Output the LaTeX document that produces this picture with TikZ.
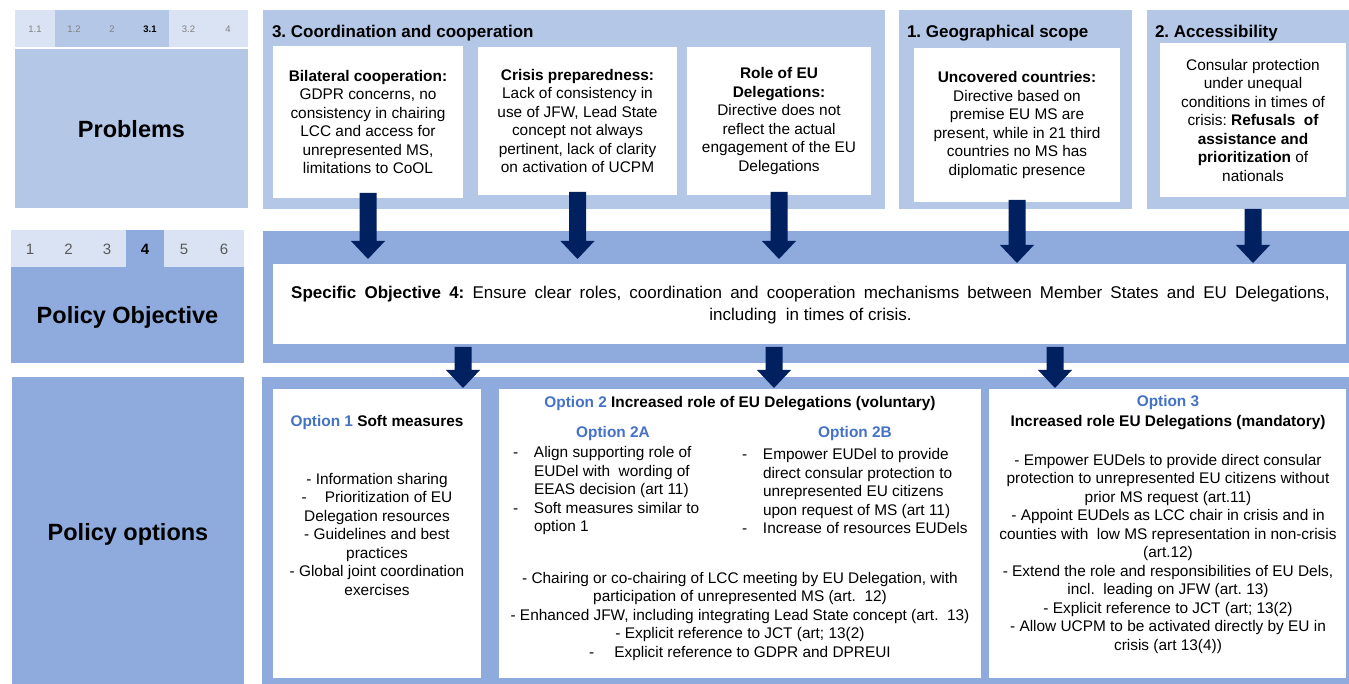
\documentclass[tikz,border=0pt]{standalone}
\usepackage{fontspec}
\setmainfont{Liberation Sans}
\usetikzlibrary{calc}
\definecolor{tabpale}{HTML}{DAE3F3}
\definecolor{panellight}{HTML}{B4C7E7}
\definecolor{panelmid}{HTML}{8FAADC}
\definecolor{navy}{HTML}{002060}
\definecolor{optblue}{HTML}{4472C4}
\definecolor{tabgray}{HTML}{808080}
\definecolor{tabgraydark}{HTML}{595959}
\frenchspacing

% thick block arrow pointing down: #1 = top of shaft, #2 = tip
\newcommand\blockarrow[2]{%
  \fill[navy] ($(#1)+(-8.5,0)$) -- ($(#1)+(8.5,0)$) -- ($(#2)+(8.5,-18)$)
    -- ($(#2)+(17,-18)$) -- (#2) -- ($(#2)+(-17,-18)$) -- ($(#2)+(-8.5,-18)$) -- cycle;}

\begin{document}
\begin{tikzpicture}[x=1pt,y=-1pt,
  every node/.style={inner sep=0pt, outer sep=0pt},
  area/.style={rectangle, anchor=north west},
  tabcell/.style={rectangle, minimum height=37.5, text=tabgray,
    font=\fontsize{9.5}{11}\selectfont},
  tabcellb/.style={rectangle, minimum height=37.5, text=tabgraydark,
    font=\fontsize{15}{17}\selectfont},
  rowlabel/.style={font=\fontsize{23.5}{28}\bfseries\selectfont},
  paneltitle/.style={anchor=west, font=\fontsize{17}{20}\bfseries\selectfont},
  boxtext/.style={area, fill=white, align=center, font=\fontsize{15.4}{18.5}\selectfont},
  bodytext/.style={font=\fontsize{15.4}{18.5}\selectfont},
  opthead/.style={font=\fontsize{15.4}{18.5}\bfseries\selectfont},
]
\useasboundingbox (0,0) rectangle (1349,684);
\fill[white] (0,0) rectangle (1349,684);

% ---------- left column: problems ----------
\node[tabcell, fill=tabpale, minimum width=40] (t11) at (35,28.75) {1.1};
\node[tabcell, fill=panellight, minimum width=38] (t12) at (74,28.75) {1.2};
\node[tabcell, fill=panellight, minimum width=38] (t2) at (112,28.75) {2};
\node[tabcell, fill=panellight, minimum width=38, text=black,
  font=\fontsize{9.5}{11}\bfseries\selectfont] (t31) at (150,28.75) {3.1};
\node[tabcell, fill=tabpale, minimum width=39] (t32) at (188.5,28.75) {3.2};
\node[tabcell, fill=tabpale, minimum width=40] (t4) at (228,28.75) {4};
\node[area, fill=panellight, minimum width=233, minimum height=159] (prob) at (15,49) {};
\node[rowlabel] (problab) at ($(prob.center)+(0,1)$) {Problems};

% ---------- left column: policy objective ----------
\node[tabcellb, fill=tabpale, minimum width=38] (o1tab) at (30,249) {1};
\node[tabcellb, fill=tabpale, minimum width=39] (o2tab) at (68.5,249) {2};
\node[tabcellb, fill=tabpale, minimum width=38] (o3tab) at (107,249) {3};
\node[tabcellb, fill=panelmid, minimum width=38, text=black,
  font=\fontsize{15}{17}\bfseries\selectfont] (o4tab) at (145,249) {4};
\node[tabcellb, fill=tabpale, minimum width=40] (o5tab) at (184,249) {5};
\node[tabcellb, fill=tabpale, minimum width=40] (o6tab) at (224,249) {6};
\node[area, fill=panelmid, minimum width=233, minimum height=95.5] (polobj) at (11,267.5) {};
\node[rowlabel] (pollab) at ($(polobj.center)+(0,2.5)$) {Policy Objective};

% ---------- left column: policy options ----------
\node[area, fill=panelmid, minimum width=232, minimum height=307] (polopt) at (12,377) {};
\node[rowlabel] (optlab) at (128,534) {Policy options};

% ---------- problem panels ----------
\node[area, fill=panellight, minimum width=622, minimum height=199] (p3) at (263,10) {};
\node[paneltitle] (p3t) at (272,33) {3. Coordination and cooperation};
\node[area, fill=panellight, minimum width=233, minimum height=199] (p1) at (899,10) {};
\node[paneltitle] (p1t) at (907,33) {1. Geographical scope};
\node[area, fill=panellight, minimum width=202, minimum height=199] (p2) at (1147,10) {};
\node[paneltitle] (p2t) at (1155,33) {2. Accessibility};

\node[boxtext, minimum width=190, minimum height=152] (bil) at (273,46)
  {\textbf{Bilateral cooperation:}\\GDPR concerns, no\\consistency in chairing\\LCC and access for\\unrepresented MS,\\limitations to CoOL};
\node[boxtext, minimum width=199, minimum height=148] (cri) at (478,47)
  {\textbf{Crisis preparedness:}\\Lack of consistency in\\use of JFW, Lead State\\concept not always\\pertinent, lack of clarity\\on activation of UCPM};
\node[boxtext, minimum width=184, minimum height=148] (rol) at (687,47)
  {\textbf{Role of EU}\\\textbf{Delegations:}\\Directive does not\\reflect the actual\\engagement of the EU\\Delegations};
\node[boxtext, minimum width=206, minimum height=154] (unc) at (914,48)
  {\textbf{Uncovered countries:}\\Directive based on\\premise EU MS are\\present, while in 21 third\\countries no MS has\\diplomatic presence};
\node[boxtext, minimum width=186, minimum height=154] (acc) at (1160,43)
  {Consular protection\\under unequal\\conditions in times of\\crisis: \textbf{Refusals\ \ of}\\\textbf{assistance and}\\\textbf{prioritization} of\\nationals};

% ---------- specific objective ----------
\node[area, fill=panelmid, minimum width=1086, minimum height=132] (objpanel) at (263,231) {};
\node[area, fill=white, minimum width=1073, minimum height=80] (obj) at (273,264) {};
\node[align=center, font=\fontsize{17}{22}\selectfont] (objtext) at ($(obj.center)+(1,1)$)
  {{\spaceskip=8.2pt\relax\textbf{Specific Objective 4:} Ensure clear roles, coordination and cooperation mechanisms between Member States and EU Delegations,}\\including\ \ in times of crisis.};

% ---------- policy options ----------
\node[area, fill=panelmid, minimum width=1087, minimum height=307] (optpanel) at (262,377) {};
\node[area, fill=white, minimum width=208, minimum height=289] (opt1) at (273,389) {};
\node[area, fill=white, minimum width=482, minimum height=289] (opt2) at (499,389) {};
\node[area, fill=white, minimum width=357, minimum height=289] (opt3) at (989,389) {};

% option 1
\node[opthead] (opt1h) at (377,423) {\textcolor{optblue}{Option 1} Soft measures};
\node[bodytext, align=center] (opt1l) at (377,534)
  {- Information sharing\\-\hspace{18pt}Prioritization of EU\\Delegation resources\\- Guidelines and best\\practices\\- Global joint coordination\\exercises};

% option 2
\node[opthead] (opt2h) at (740,404) {\textcolor{optblue}{Option 2} Increased role of EU Delegations (voluntary)};
\node[opthead, text=optblue] (opt2ah) at (613,434) {Option 2A};
\node[opthead, text=optblue] (opt2bh) at (855,434) {Option 2B};
\node[bodytext, align=left, anchor=west] (opt2al) at (513,491)
  {\makebox[21pt][l]{-}Align supporting role of\\
   \hspace*{21pt}EUDel with\ \ wording of\\
   \hspace*{21pt}EEAS decision (art 11)\\
   \makebox[21pt][l]{-}Soft measures similar to\\
   \hspace*{21pt}option 1};
\node[bodytext, align=left, anchor=west] (opt2bl) at (742,491)
  {\makebox[21pt][l]{-}Empower EUDel to provide\\
   \hspace*{21pt}direct consular protection to\\
   \hspace*{21pt}unrepresented EU citizens\\
   \hspace*{21pt}upon request of MS (art 11)\\
   \makebox[21pt][l]{-}Increase of resources EUDels};
\node[bodytext, align=center] (opt2l) at (740,616.5)
  {- Chairing or co-chairing of LCC meeting by EU Delegation, with\\
   participation of unrepresented MS (art.\ \ 12)\\
   - Enhanced JFW, including integrating Lead State concept (art.\ \ 13)\\
   - Explicit reference to JCT (art; 13(2)\\
   -\hspace{20pt}Explicit reference to GDPR and DPREUI};

% option 3
\node[opthead, text=optblue] (opt3h) at (1168,403) {Option 3};
\node[opthead] (opt3s) at (1168,423) {Increased role EU Delegations (mandatory)};
\node[bodytext, align=center] (opt3l) at (1168,554)
  {- Empower EUDels to provide direct consular\\
   protection to unrepresented EU citizens without\\
   prior MS request (art.11)\\
   - Appoint EUDels as LCC chair in crisis and in\\
   counties with\ \ low MS representation in non-crisis\\
   (art.12)\\
   - Extend the role and responsibilities of EU Dels,\\
   incl.\ \ leading on JFW (art.\ 13)\\
   - Explicit reference to JCT (art; 13(2)\\
   - Allow UCPM to be activated directly by EU in\\
   crisis (art 13(4))};

% ---------- arrows: problems -> objective ----------
\coordinate (s1) at ($(bil.south)+(0,-5)$);
\coordinate (e1) at ($(bil.south |- obj.north)+(0,-5)$);
\blockarrow{s1}{e1}
\coordinate (s2) at ($(cri.south)+(0,-3)$);
\coordinate (e2) at ($(cri.south |- obj.north)+(0,-5)$);
\blockarrow{s2}{e2}
\coordinate (s3) at ($(rol.south)+(0,-3)$);
\coordinate (e3) at ($(rol.south |- obj.north)+(0,-5)$);
\blockarrow{s3}{e3}
\coordinate (s4) at ($(unc.south)+(0,-2)$);
\coordinate (e4) at ($(unc.south |- obj.north)+(0,-1)$);
\blockarrow{s4}{e4}
\coordinate (s5) at (acc.south |- p2.south);
\coordinate (e5) at ($(acc.south |- obj.north)+(0,-1)$);
\blockarrow{s5}{e5}

% ---------- arrows: objective -> options ----------
\coordinate (c1) at (463,0);
\coordinate (c2) at (774,0);
\coordinate (c3) at (1055,0);
\coordinate (u1) at ($(c1 |- obj.south)+(0,3)$);
\coordinate (v1) at ($(c1 |- opt1.north)+(0,-1)$);
\blockarrow{u1}{v1}
\coordinate (u2) at ($(c2 |- obj.south)+(0,3)$);
\coordinate (v2) at ($(c2 |- opt2.north)+(0,-1)$);
\blockarrow{u2}{v2}
\coordinate (u3) at ($(c3 |- obj.south)+(0,3)$);
\coordinate (v3) at ($(c3 |- opt3.north)+(0,-1)$);
\blockarrow{u3}{v3}
\end{tikzpicture}
\end{document}
